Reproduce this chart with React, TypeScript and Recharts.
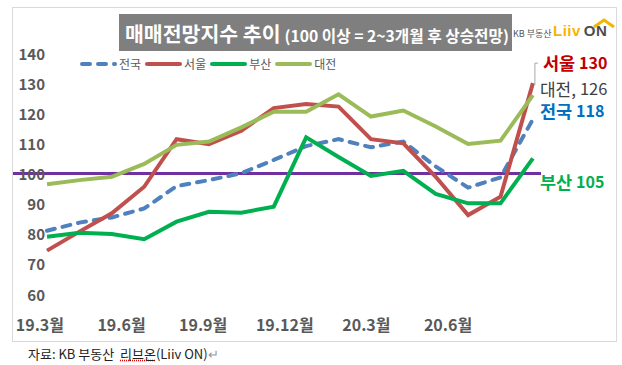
import React from 'react';
import { LineChart, Line, XAxis, YAxis, ReferenceLine, Legend, LabelList } from 'recharts';

const months = ['19.3', '19.4', '19.5', '19.6', '19.7', '19.8', '19.9', '19.10', '19.11', '19.12', '20.1', '20.2', '20.3', '20.4', '20.5', '20.6'];
const national = [81.0, 83.7, 85.4, 88.4, 95.8, 97.8, 100.1, 104.5, 109.1, 111.4, 108.7, 110.6, 102.3, 95.3, 98.7, 118];
const seoul = [74.4, 80.7, 86.8, 95.6, 111.4, 109.7, 114.2, 121.7, 123.1, 122.2, 111.4, 110.0, 98.9, 86.2, 92.3, 130];
const busan = [79.0, 80.3, 79.9, 78.2, 84.0, 87.3, 87.0, 89.0, 112.0, 105.5, 99.2, 100.9, 93.2, 90.1, 90.1, 105];
const daejeon = [96.4, 97.8, 98.9, 103.2, 109.5, 110.6, 115.3, 120.5, 120.5, 126.3, 118.9, 120.9, 115.6, 109.8, 110.9, 126];
const seriesNames = ['전국', '서울', '부산', '대전'];
const xTickLabels = ['19.3월', '19.6월', '19.9월', '19.12월', '20.3월', '20.6월'];
// where each x-axis label sits along the month axis (0 = 19.3), as drawn in the source
const xTickPos = [-0.22, 2.3, 4.82, 7.34, 9.86, 12.38];
const yTicks = [60, 70, 80, 90, 100, 110, 120, 130, 140];
const baseline = 100;

const data = months.map((m, i) => ({
  t: i,
  month: m,
  national: national[i],
  seoul: seoul[i],
  busan: busan[i],
  daejeon: daejeon[i],
}));

const KR = "'Noto Sans CJK KR', 'Noto Sans', sans-serif";
const LAST = months.length - 1;

type EndCfg = { name: string; color: string; weight: string; nameSize: number; valueSize: number; dx: number; dy: number; bracket?: boolean };

const endCfg: Record<string, EndCfg> = {
  seoul: { name: '서울', color: '#c00000', weight: 'bold', nameSize: 17.5, valueSize: 16, dx: 10, dy: -21, bracket: true },
  daejeon: { name: '대전,', color: '#404040', weight: 'normal', nameSize: 17, valueSize: 16.5, dx: 7, dy: -7 },
  national: { name: '전국', color: '#0070c0', weight: 'bold', nameSize: 17.5, valueSize: 16, dx: 7, dy: -9 },
  busan: { name: '부산', color: '#00b050', weight: 'bold', nameSize: 17.5, valueSize: 16, dx: 7, dy: 23 },
};

const makeEndLabel = (key: string) => (p: any) => {
  if (p.index !== LAST) return null;
  const c = endCfg[key];
  const x = Number(p.x);
  const y = Number(p.y);
  return (
    <g>
      {c.bracket && (
        <polyline
          points={`${x + 5},${y + c.dy + 1} ${x + 2},${y + c.dy + 1} ${x + 2},${y + 2}`}
          fill="none"
          stroke="#a6a6a6"
          strokeWidth={1}
        />
      )}
      <text x={x + c.dx} y={y + c.dy} dominantBaseline="central" fill={c.color} fontFamily={KR} fontWeight={c.weight}>
        <tspan fontSize={c.nameSize}>{c.name}</tspan>
        <tspan fontSize={c.valueSize} dx={4}>{p.value}</tspan>
      </text>
    </g>
  );
};

const YTick = (p: any) => (
  <text x={p.x} y={p.y} textAnchor="end" dominantBaseline="central" fill="#595959" fontSize={15} fontWeight="bold" fontFamily={KR}>
    {p.payload.value}
  </text>
);

const LegendContent = (props: any) => {
  const items = ([...(props.payload || [])] as any[]).sort(
    (a, b) => seriesNames.indexOf(a.value) - seriesNames.indexOf(b.value)
  );
  return (
    <div style={{ display: 'flex', alignItems: 'center', fontFamily: KR, fontSize: 12, color: '#595959' }}>
      {items.map((it, i) => (
        <div key={i} style={{ display: 'flex', alignItems: 'center', marginRight: 4 }}>
          <svg width={37} height={8}>
            <line
              x1={2}
              y1={4}
              x2={35}
              y2={4}
              stroke={it.color}
              strokeWidth={4}
              strokeLinecap="round"
              strokeDasharray={it.payload && it.payload.strokeDasharray ? it.payload.strokeDasharray : undefined}
            />
          </svg>
          <span style={{ marginLeft: 2 }}>{it.value}</span>
        </div>
      ))}
    </div>
  );
};

export default function App() {
  return (
    <div style={{ position: 'absolute', left: 0, top: 0, width: 622, height: 365, background: '#fff', fontFamily: KR }}>
      <div style={{ position: 'absolute', left: 12, top: 7, width: 603, height: 333, border: '1px solid #d9d9d9' }} />
      <div style={{ position: 'absolute', left: 0, top: 0 }}>
        <LineChart width={622} height={365} data={data} margin={{ top: 53, right: 81, bottom: 31, left: 13 }}>
          <XAxis
            dataKey="t"
            type="number"
            domain={[-1.05, 15.25]}
            ticks={xTickPos}
            tickFormatter={(v: number) => xTickLabels[xTickPos.indexOf(v)]}
            axisLine={false}
            tickLine={false}
            tickSize={0}
            tickMargin={26}
            height={40}
            interval={0}
            tick={{ fill: '#595959', fontSize: 16, fontWeight: 'bold', fontFamily: KR }}
          />
          <YAxis
            domain={[60, 140]}
            ticks={yTicks}
            mirror
            axisLine={false}
            tickLine={false}
            tickSize={0}
            tickMargin={32}
            interval={0}
            tick={YTick}
          />
          <ReferenceLine y={baseline} stroke="#7030a0" strokeWidth={3} />
          <Legend
            layout="vertical"
            align="center"
            verticalAlign="middle"
            wrapperStyle={{ top: 55, left: 80, width: 'auto' }}
            content={LegendContent}
          />
          <Line dataKey="national" name="전국" stroke="#4f81bd" strokeWidth={4} strokeDasharray="8 8" strokeLinecap="round" dot={false} isAnimationActive={false}>
            <LabelList dataKey="national" content={makeEndLabel('national')} />
          </Line>
          <Line dataKey="seoul" name="서울" stroke="#c0504d" strokeWidth={4} dot={false} isAnimationActive={false}>
            <LabelList dataKey="seoul" content={makeEndLabel('seoul')} />
          </Line>
          <Line dataKey="busan" name="부산" stroke="#00b050" strokeWidth={4} dot={false} isAnimationActive={false}>
            <LabelList dataKey="busan" content={makeEndLabel('busan')} />
          </Line>
          <Line dataKey="daejeon" name="대전" stroke="#9bbb59" strokeWidth={4} dot={false} isAnimationActive={false}>
            <LabelList dataKey="daejeon" content={makeEndLabel('daejeon')} />
          </Line>
        </LineChart>
      </div>
      <div
        style={{
          position: 'absolute',
          left: 119,
          top: 14,
          width: 393,
          height: 37,
          background: '#7f7f7f',
          color: '#fff',
          fontWeight: 'bold',
          display: 'flex',
          alignItems: 'baseline',
          paddingLeft: 6,
          boxSizing: 'border-box',
          paddingTop: 4,
          whiteSpace: 'nowrap',
        }}
      >
        <span style={{ fontSize: 20.5 }}>매매전망지수 추이</span>
        <span style={{ fontSize: 15.7, marginLeft: 4 }}>(100 이상 = 2~3개월 후 상승전망)</span>
      </div>
      <div style={{ position: 'absolute', left: 513, top: 27, fontSize: 9, color: '#555', whiteSpace: 'nowrap' }}>KB 부동산</div>
      <div style={{ position: 'absolute', left: 553, top: 22, fontSize: 15, fontWeight: 'bold', whiteSpace: 'nowrap', fontFamily: "'Liberation Sans', sans-serif", letterSpacing: 0.5 }}>
        <span style={{ color: '#f5b400' }}>Liiv</span>
        <span style={{ color: '#4d4d4d', marginLeft: 3 }}>ON</span>
      </div>
      <svg style={{ position: 'absolute', left: 592, top: 17 }} width={24} height={12}>
        <polyline points="2,10 12,3 22,10" fill="none" stroke="#f5b400" strokeWidth={3} />
      </svg>
      <div style={{ position: 'absolute', left: 28, top: 344, fontSize: 13, color: '#222', whiteSpace: 'nowrap' }}>
        자료: KB 부동산&nbsp;&nbsp;<span style={{ textDecoration: 'underline dotted #e00000' }}>리브온</span>(Liiv ON)<span style={{ color: '#999' }}>↵</span>
      </div>
    </div>
  );
}
